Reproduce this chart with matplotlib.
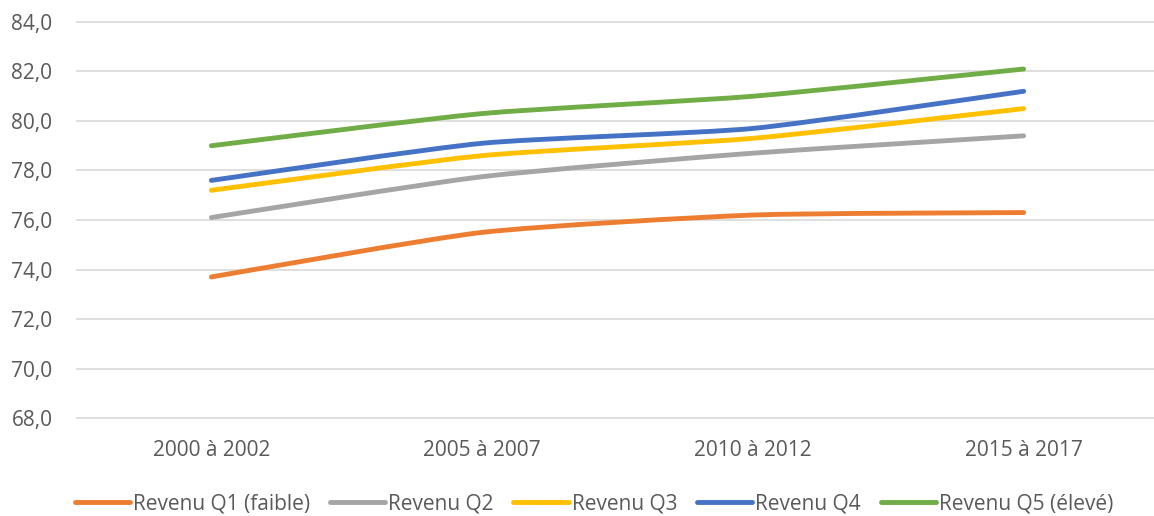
import matplotlib.pyplot as plt
from matplotlib.path import Path
from matplotlib.patches import PathPatch
from matplotlib.lines import Line2D
from matplotlib.ticker import FuncFormatter

# Periods and life expectancy by income quintile
periodes = ['2000 à 2002', '2005 à 2007', '2010 à 2012', '2015 à 2017']
q1 = [73.7, 75.5, 76.2, 76.3]
q2 = [76.1, 77.75, 78.7, 79.4]
q3 = [77.2, 78.6, 79.3, 80.5]
q4 = [77.6, 79.1, 79.7, 81.2]
q5 = [79.0, 80.3, 81.0, 82.1]
noms = ['Revenu Q1 (faible)', 'Revenu Q2', 'Revenu Q3', 'Revenu Q4', 'Revenu Q5 (élevé)']
couleurs = ['#ED7D31', '#A5A5A5', '#FFC000', '#4472C4', '#70AD47']

plt.rcParams['font.family'] = ['Open Sans', 'DejaVu Sans']
texte = '#595959'
taille = 15
epaisseur = 3.5


def courbe_lisse(xs, ys, t=10):
    # slightly smoothed line through the points, cubic bezier segments
    pts = list(zip(xs, ys))
    n = len(pts)
    verts = [pts[0]]
    codes = [Path.MOVETO]
    for i in range(n - 1):
        p0 = pts[max(i - 1, 0)]
        p1 = pts[i]
        p2 = pts[i + 1]
        p3 = pts[min(i + 2, n - 1)]
        c1 = (p1[0] + (p2[0] - p0[0]) / t, p1[1] + (p2[1] - p0[1]) / t)
        c2 = (p2[0] - (p3[0] - p1[0]) / t, p2[1] - (p3[1] - p1[1]) / t)
        verts += [c1, c2, p2]
        codes += [Path.CURVE4] * 3
    return Path(verts, codes)


fig = plt.figure(figsize=(11.54, 5.16), dpi=100)
ax = fig.add_axes([76 / 1154, 96.5 / 516, 1083 / 1154, 399 / 516])

x = list(range(len(periodes)))
series = [q1, q2, q3, q4, q5]
poignees = []
for vals, c, nom in zip(series, couleurs, noms):
    patch = PathPatch(courbe_lisse(x, vals), facecolor='none', edgecolor=c,
                      linewidth=epaisseur, capstyle='round', joinstyle='round', zorder=3)
    ax.add_patch(patch)
    poignees.append(Line2D([], [], color=c, linewidth=epaisseur, solid_capstyle='round', label=nom))

ax.set_xlim(-0.5, 3.5)
ax.set_ylim(67.94, 84.06)
ax.set_yticks(range(68, 85, 2))
ax.yaxis.set_major_formatter(FuncFormatter(lambda v, p: f'{v:.1f}'.replace('.', ',')))
ax.set_xticks(x)
ax.set_xticklabels(periodes)
ax.grid(axis='y', color='#D9D9D9', linewidth=1.2)
ax.set_axisbelow(True)
for s in ax.spines.values():
    s.set_visible(False)
ax.tick_params(axis='both', length=0, labelsize=taille, colors=texte)
ax.tick_params(axis='y', pad=17)
ax.tick_params(axis='x', pad=15)

fig.legend(handles=poignees, loc='center', bbox_to_anchor=(594 / 1154, 12 / 516),
           ncol=5, frameon=False, fontsize=taille, labelcolor=texte,
           handlelength=2.65, handletextpad=0.15, columnspacing=0.95)

plt.savefig('out.png', dpi=100)
